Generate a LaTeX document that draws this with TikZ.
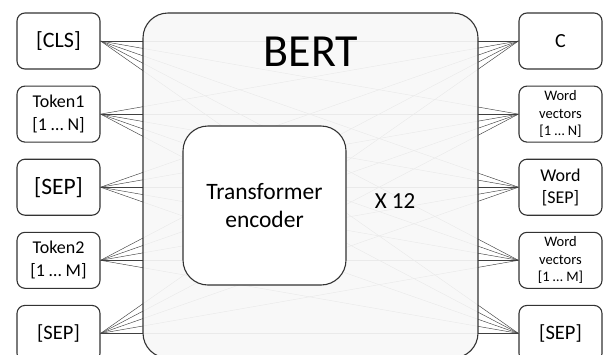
\documentclass[tikz,border=0pt]{standalone}
\usepackage{fontspec}
\setmainfont{Carlito}
\usetikzlibrary{positioning}
\definecolor{cEdge}{RGB}{51,51,51}
\definecolor{cBert}{RGB}{247,247,247}
\tikzset{
	tokbox/.style ={rectangle, rounded corners=8pt, draw=cEdge, line width=1.1pt, minimum width=83pt, minimum height=56pt, align=center, fill=white, inner sep=0pt},
	bertbox/.style={draw=cEdge, line width=1.1pt, rounded corners=25pt, fill=cBert, fill opacity=0.93},
	encbox/.style ={rectangle, rounded corners=25pt, draw=cEdge, line width=1.1pt, minimum width=163pt, minimum height=159pt, align=center, fill=white},
	link/.style   ={black!75, line width=0.45pt},
}
\newcommand{\fs}[2]{\fontsize{#1}{#2}\selectfont}

\begin{document}
\begin{tikzpicture}[x=1pt, y=-1pt, node distance=16pt]
	\useasboundingbox (0,0) rectangle (604,354);
	\clip (0,0) rectangle (604,354);
	% input tokens
	\node[tokbox, font=\fs{22}{24}] (l1) at (58.5,41) {[CLS]};
	\node[tokbox, font=\fs{18}{23}, below=of l1] (l2) {Token1\\{}[1 … N]};
	\node[tokbox, font=\fs{23.5}{24}, below=of l2] (l3) {[SEP]};
	\node[tokbox, font=\fs{18}{23}, below=of l3] (l4) {Token2\\{}[1 … M]};
	\node[tokbox, font=\fs{20.5}{22}, below=of l4] (l5) {[SEP]};
	% outputs
	\node[tokbox, font=\fs{20}{24}] (r1) at (560.5,41) {C};
	\node[tokbox, font=\fs{14.5}{17.5}, below=of r1] (r2) {Word\\vectors\\{}[1 … N]};
	\node[tokbox, font=\fs{18}{22}, below=of r2] (r3) {Word\\{}[SEP]};
	\node[tokbox, font=\fs{14.5}{17.5}, below=of r3] (r4) {Word\\vectors\\{}[1 … M]};
	\node[tokbox, font=\fs{20.5}{22}, below=of r4] (r5) {[SEP]};
	% every token feeds every output
	\foreach \i in {1,...,5} {
		\foreach \j in {1,...,5} {\draw[link] (l\i.east) -- (r\j.west);}
	}
	\draw[bertbox] (143,13) rectangle (478,358);
	\node[font=\fs{46}{48}] (bert) at (311,52) {BERT};
	\node[encbox, font=\fs{23.5}{28}] (enc) at (264.5,205.5) {Transformer\\encoder};
	\node[font=\fs{23}{26}] (rep) at (395,201) {X 12};
\end{tikzpicture}
\end{document}
